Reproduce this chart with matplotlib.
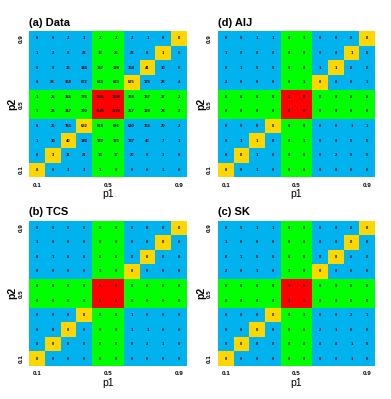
import numpy as np
import matplotlib
matplotlib.use("Agg")
import matplotlib.pyplot as plt
from matplotlib.colors import ListedColormap

plt.rcParams['font.family'] = ['Liberation Sans', 'DejaVu Sans']

p1 = np.linspace(0.1, 0.9, 10)
p2 = np.linspace(0.1, 0.9, 10)
tick_vals = [0.1, 0.5, 0.9]
tick_labels = ["0.1", "0.5", "0.9"]

# counts, rows listed from top (p2 = 0.9) to bottom (p2 = 0.1)
data_counts = [
    [0, 0, 2, 3, 2, 2, 2, 1, 0, 0],
    [1, 2, 8, 23, 12, 25, 23, 8, 1, 0],
    [0, 8, 33, 146, 137, 128, 134, 41, 10, 0],
    [8, 24, 168, 672, 683, 683, 635, 126, 28, 4],
    [1, 25, 165, 776, 1161, 1209, 768, 137, 37, 2],
    [1, 22, 167, 730, 1145, 1110, 767, 129, 28, 2],
    [8, 26, 155, 692, 674, 696, 680, 155, 29, 2],
    [1, 10, 40, 146, 122, 121, 137, 42, 7, 1],
    [0, 3, 11, 21, 18, 17, 20, 8, 3, 0],
    [8, 0, 3, 3, 1, 0, 0, 0, 1, 0],
]
tcs_counts = [
    [0, 0, 0, 0, 0, 0, 0, 0, 0, 0],
    [1, 0, 0, 0, 0, 0, 0, 0, 0, 0],
    [0, 1, 0, 0, 0, 0, 0, 0, 0, 0],
    [0, 0, 0, 0, 1, 0, 0, 0, 0, 0],
    [0, 0, 0, 0, 1, 0, 0, 0, 0, 0],
    [0, 0, 0, 0, 0, 0, 0, 0, 0, 0],
    [0, 0, 0, 0, 0, 0, 1, 0, 0, 0],
    [0, 0, 0, 0, 0, 0, 1, 1, 0, 0],
    [0, 0, 0, 0, 0, 0, 0, 2, 1, 0],
    [0, 0, 0, 0, 0, 0, 0, 0, 0, 0],
]
aij_counts = [
    [0, 0, 1, 1, 0, 1, 0, 0, 0, 0],
    [1, 0, 0, 0, 0, 0, 0, 0, 1, 0],
    [0, 1, 0, 0, 0, 0, 1, 1, 0, 0],
    [2, 0, 0, 0, 0, 1, 0, 0, 0, 1],
    [0, 0, 0, 0, 1, 0, 0, 0, 0, 0],
    [0, 0, 0, 0, 0, 0, 0, 0, 0, 0],
    [0, 0, 0, 0, 0, 0, 0, 0, 1, 1],
    [0, 1, 1, 0, 0, 1, 0, 0, 0, 0],
    [0, 0, 1, 0, 0, 0, 0, 2, 0, 0],
    [0, 0, 1, 0, 0, 0, 0, 0, 0, 0],
]
sk_counts = [
    [0, 0, 1, 1, 0, 0, 0, 0, 0, 0],
    [1, 0, 0, 0, 0, 0, 0, 0, 0, 0],
    [0, 1, 0, 0, 0, 0, 0, 0, 0, 0],
    [2, 0, 1, 0, 1, 0, 0, 0, 0, 0],
    [0, 0, 0, 0, 1, 0, 0, 0, 0, 0],
    [0, 0, 0, 0, 0, 1, 0, 0, 0, 0],
    [0, 0, 0, 0, 0, 1, 0, 0, 2, 1],
    [0, 0, 0, 0, 0, 0, 2, 1, 0, 0],
    [0, 0, 0, 0, 0, 0, 0, 0, 1, 0],
    [0, 0, 0, 0, 0, 0, 0, 0, 1, 0],
]

panels = [
    ("(a) Data", data_counts, [0.074, 0.556, 0.404, 0.366]),
    ("(d) AIJ", aij_counts, [0.557, 0.556, 0.402, 0.366]),
    ("(b) TCS", tcs_counts, [0.074, 0.083, 0.404, 0.364]),
    ("(c) SK", sk_counts, [0.557, 0.083, 0.402, 0.364]),
]

# background classes: 0 blue, 1 green band, 2 diagonal, 3 centre
n = len(p1)
ii, jj = np.meshgrid(np.arange(n), np.arange(n))
band = (ii == 4) | (ii == 5) | (jj == 4) | (jj == 5)
centre = ((ii == 4) | (ii == 5)) & ((jj == 4) | (jj == 5))
cls = np.zeros((n, n))
cls[band] = 1
cls[ii == jj] = 2
cls[centre] = 3
cmap = ListedColormap(["#00B2EE", "#00FF00", "#FFD700", "#FF0000"])

step = p1[1] - p1[0]
xe = np.append(p1 - step / 2, p1[-1] + step / 2)
ye = np.append(p2 - step / 2, p2[-1] + step / 2)

fig = plt.figure(figsize=(3.91, 3.99), dpi=100)
for title, counts, pos in panels:
    ax = fig.add_axes(pos)
    vals = np.array(counts)[::-1]  # row 0 = p2 0.1
    ax.pcolormesh(xe, ye, cls, cmap=cmap, vmin=-0.5, vmax=3.5)
    for r in range(n):
        for c in range(n):
            ax.text(p1[c], p2[r], str(vals[r, c]), ha="center", va="center",
                    fontsize=3, fontweight="bold", color="black")
    ax.set_xlim(xe[0], xe[-1])
    ax.set_ylim(ye[0], ye[-1])
    ax.set_xticks(tick_vals)
    ax.set_xticklabels(tick_labels, fontsize=4.5, fontweight="bold")
    ax.set_yticks(tick_vals)
    ax.set_yticklabels(tick_labels, fontsize=4.5, fontweight="bold",
                       rotation=90, va="center")
    ax.tick_params(length=0, pad=4)
    for s in ax.spines.values():
        s.set_visible(False)
    ax.set_xlabel("p1", fontsize=7.5, labelpad=1)
    ax.set_ylabel("p2", fontsize=7.5, labelpad=1, fontweight="bold")
    ax.set_title(title, loc="left", fontsize=8, fontweight="bold", pad=4)

fig.savefig("out.png", dpi=100)
